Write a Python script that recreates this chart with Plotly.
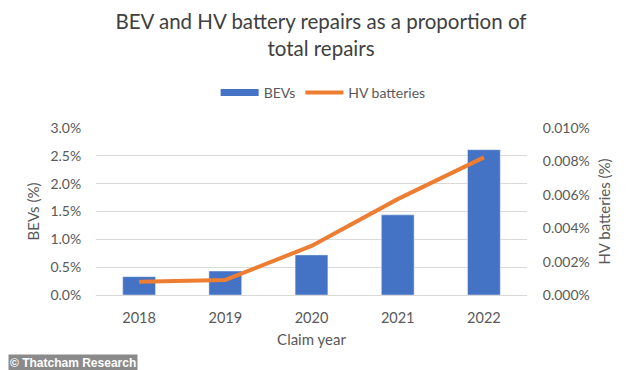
import plotly.graph_objects as go

years = ["2018", "2019", "2020", "2021", "2022"]
bev_pct = [0.33, 0.43, 0.72, 1.44, 2.61]
hv_pct = [0.0008, 0.0009, 0.00294, 0.00574, 0.00824]
left_ticks = [0, 0.5, 1.0, 1.5, 2.0, 2.5, 3.0]
left_labels = ["0.0%", "0.5%", "1.0%", "1.5%", "2.0%", "2.5%", "3.0%"]
right_ticks = [0, 0.002, 0.004, 0.006, 0.008, 0.010]
right_labels = ["0.000%", "0.002%", "0.004%", "0.006%", "0.008%", "0.010%"]

FONT = "Lato"
GREY = "#595959"
BLUE = "#4472C4"
ORANGE = "#ED7D31"

fig = go.Figure()
fig.add_trace(go.Bar(x=years, y=bev_pct, name="BEVs", marker=dict(color=BLUE),
                     width=0.38, yaxis="y", showlegend=False))
fig.add_trace(go.Scatter(x=years, y=hv_pct, name="HV batteries", mode="lines",
                         line=dict(color=ORANGE, width=4), yaxis="y2", showlegend=False))
# legend entries (Excel style: wide bar swatch and line swatch)
fig.add_trace(go.Scatter(x=[None], y=[None], name="BEVs", mode="lines",
                         line=dict(color=BLUE, width=7), yaxis="y"))
fig.add_trace(go.Scatter(x=[None], y=[None], name="HV batteries", mode="lines",
                         line=dict(color=ORANGE, width=4), yaxis="y2"))

W, H = 626, 362
fig.update_layout(
    width=W, height=H,
    paper_bgcolor="white", plot_bgcolor="white",
    margin=dict(l=88, r=107, t=120, b=75, autoexpand=False),
    font=dict(family=FONT, color=GREY, size=14),
    title=dict(text="BEV and HV battery repairs as a proportion of<br>total repairs",
               x=0.5, xanchor="center", y=0.942, yanchor="top",
               font=dict(size=20.5, color="#404040", family=FONT)),
    showlegend=True,
    legend=dict(orientation="h", x=0.527, xanchor="center", y=1.21, yanchor="middle",
                font=dict(size=14, color=GREY), traceorder="normal", itemwidth=38),
    xaxis=dict(title=dict(text="Claim year", font=dict(size=15, color=GREY), standoff=9),
               showgrid=False, showline=True, linecolor="#d9d9d9",
               ticks="outside", ticklen=10, tickcolor="rgba(0,0,0,0)",
               tickfont=dict(size=14.5, color=GREY), automargin=False),
    yaxis=dict(title=dict(text="BEVs (%)", font=dict(size=15, color=GREY), standoff=7),
               range=[0, 3.0], tickvals=left_ticks, ticktext=left_labels,
               showgrid=True, gridcolor="#d9d9d9", zeroline=False,
               ticks="outside", ticklen=11, tickcolor="rgba(0,0,0,0)",
               tickfont=dict(size=14, color=GREY), automargin=False),
    yaxis2=dict(title=dict(text="HV batteries (%)", font=dict(size=15, color=GREY), standoff=10),
                range=[0, 0.010], tickvals=right_ticks, ticktext=right_labels,
                overlaying="y", side="right", showgrid=False, zeroline=False,
                ticks="outside", ticklen=12, tickcolor="rgba(0,0,0,0)",
                tickfont=dict(size=14, color=GREY), automargin=False),
)

fig.add_annotation(text="<b>© Thatcham Research</b>", xref="paper", yref="paper",
                   x=-0.204, y=-0.353, xanchor="left", yanchor="top", showarrow=False,
                   font=dict(family="Liberation Sans", size=12, color="white"),
                   bgcolor="#8a8a8a", borderpad=1)

fig.write_html("out.html")
